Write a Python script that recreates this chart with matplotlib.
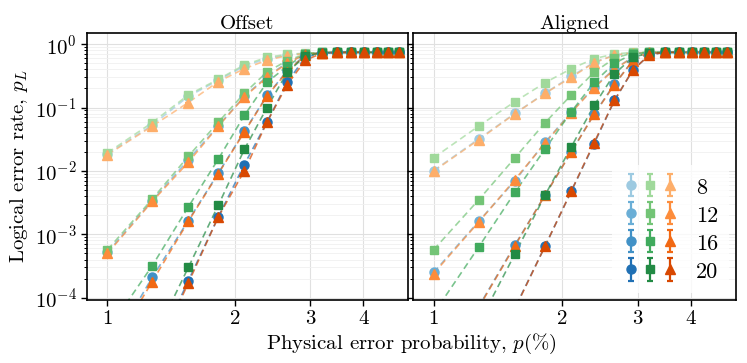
import numpy as np
import matplotlib
matplotlib.use('Agg')
import matplotlib.pyplot as plt
from matplotlib.legend_handler import HandlerTuple
from matplotlib.ticker import FixedLocator, NullLocator, FixedFormatter, LogLocator

plt.rcParams['font.family'] = 'serif'
plt.rcParams['font.serif'] = ['cmr10']
plt.rcParams['mathtext.fontset'] = 'cm'
plt.rcParams['axes.formatter.use_mathtext'] = True

# physical error probability (%)
p = [1.0, 1.275, 1.55, 1.825, 2.1, 2.375, 2.65, 2.925, 3.2, 3.475, 3.75, 4.025, 4.3, 4.575, 4.85]
distances = ['8', '12', '16', '20']
panels = ['Offset', 'Aligned']

# ---- Offset ----
off_blue = [
    [0.0185, 0.053, 0.15, 0.27, 0.45, 0.59, 0.67, 0.71, 0.73, 0.74, 0.745, 0.74, 0.745, 0.74, 0.745],
    [5.2e-4, 3.4e-3, 0.015, 0.052, 0.15, 0.31, 0.51, 0.69, 0.73, 0.74, 0.745, 0.74, 0.745, 0.74, 0.74],
    [1.3e-5, 2.1e-4, 1.65e-3, 9.3e-3, 0.042, 0.155, 0.38, 0.68, 0.73, 0.745, 0.74, 0.745, 0.74, 0.745, 0.74],
    [3e-7, 1.1e-5, 1.85e-4, 1.9e-3, 0.0126, 0.059, 0.25, 0.63, 0.72, 0.74, 0.745, 0.74, 0.745, 0.74, 0.745],
]
off_green = [
    [0.0193, 0.058, 0.158, 0.28, 0.47, 0.62, 0.69, 0.72, 0.74, 0.745, 0.74, 0.745, 0.74, 0.745, 0.74],
    [5.7e-4, 3.6e-3, 0.017, 0.059, 0.168, 0.365, 0.55, 0.70, 0.74, 0.74, 0.745, 0.74, 0.745, 0.74, 0.745],
    [3e-5, 3.2e-4, 2.7e-3, 0.0155, 0.075, 0.25, 0.45, 0.70, 0.74, 0.745, 0.74, 0.745, 0.74, 0.745, 0.74],
    [8e-7, 2e-5, 3.0e-4, 2.9e-3, 0.0218, 0.10, 0.36, 0.65, 0.73, 0.74, 0.745, 0.74, 0.745, 0.74, 0.745],
]
off_orange = [
    [0.018, 0.051, 0.12, 0.257, 0.41, 0.56, 0.66, 0.71, 0.73, 0.74, 0.74, 0.745, 0.74, 0.745, 0.74],
    [5.0e-4, 3.3e-3, 0.0137, 0.051, 0.147, 0.30, 0.50, 0.69, 0.73, 0.745, 0.74, 0.745, 0.74, 0.74, 0.745],
    [1.2e-5, 1.8e-4, 1.6e-3, 9.1e-3, 0.041, 0.152, 0.37, 0.67, 0.73, 0.74, 0.745, 0.74, 0.745, 0.74, 0.74],
    [3e-7, 1.0e-5, 1.7e-4, 1.9e-3, 0.010, 0.059, 0.23, 0.56, 0.72, 0.74, 0.74, 0.745, 0.74, 0.745, 0.74],
]

# ---- Aligned ----
ali_blue = [
    [0.0101, 0.032, 0.081, 0.17, 0.31, 0.52, 0.67, 0.73, 0.74, 0.745, 0.74, 0.745, 0.74, 0.745, 0.74],
    [2.5e-4, 1.6e-3, 7.0e-3, 0.0285, 0.085, 0.21, 0.41, 0.62, 0.73, 0.74, 0.745, 0.74, 0.745, 0.74, 0.745],
    [4.6e-6, 7.2e-5, 6.8e-4, 4.2e-3, 0.020, 0.079, 0.235, 0.55, 0.72, 0.745, 0.74, 0.745, 0.74, 0.745, 0.74],
    [1.5e-7, 4.5e-6, 6.9e-5, 6.6e-4, 4.8e-3, 0.027, 0.13, 0.39, 0.68, 0.74, 0.745, 0.74, 0.745, 0.74, 0.745],
]
ali_green = [
    [0.0161, 0.051, 0.124, 0.248, 0.41, 0.59, 0.70, 0.74, 0.745, 0.74, 0.745, 0.74, 0.745, 0.74, 0.745],
    [5.7e-4, 3.5e-3, 0.0161, 0.058, 0.158, 0.36, 0.60, 0.73, 0.74, 0.745, 0.74, 0.745, 0.74, 0.745, 0.74],
    [5.6e-5, 6.3e-4, 4.6e-3, 0.0224, 0.086, 0.25, 0.50, 0.70, 0.74, 0.74, 0.745, 0.74, 0.745, 0.74, 0.745],
    [1.6e-6, 3.9e-5, 4.9e-4, 4.2e-3, 0.024, 0.108, 0.34, 0.62, 0.73, 0.745, 0.74, 0.745, 0.74, 0.745, 0.74],
]
ali_orange = [
    [0.0099, 0.031, 0.080, 0.168, 0.30, 0.51, 0.67, 0.73, 0.74, 0.74, 0.745, 0.74, 0.745, 0.74, 0.745],
    [2.4e-4, 1.56e-3, 7.3e-3, 0.0278, 0.083, 0.206, 0.40, 0.62, 0.73, 0.745, 0.74, 0.745, 0.74, 0.745, 0.74],
    [4.4e-6, 7e-5, 6.6e-4, 4.2e-3, 0.0199, 0.078, 0.23, 0.55, 0.72, 0.74, 0.745, 0.74, 0.745, 0.74, 0.745],
    [1.4e-7, 4.3e-6, 6.7e-5, 6.6e-4, 4.8e-3, 0.028, 0.13, 0.39, 0.68, 0.745, 0.74, 0.745, 0.74, 0.745, 0.74],
]

data = {
    'Offset': (off_blue, off_green, off_orange),
    'Aligned': (ali_blue, ali_green, ali_orange),
}

shades = [0.375, 0.5, 0.625, 0.75]
cmaps = [plt.cm.Blues, plt.cm.Greens, plt.cm.Oranges]
markers = ['o', 's', '^']
msizes = [6.5, 6, 7]

fig = plt.figure(figsize=(7.47, 3.63), dpi=100)
ax1 = fig.add_axes([87/747, 63/363, 321/747, 267/363])
ax2 = fig.add_axes([413/747, 63/363, 323/747, 267/363], sharey=ax1)
axes = [ax1, ax2]

handles = []
for ax, name in zip(axes, panels):
    series = data[name]
    for i, d in enumerate(distances):
        row = []
        for k in range(3):
            col = cmaps[k](shades[i])
            y = np.array(series[k][i])
            ax.plot(p, y, linestyle=(0, (4, 2.5)), lw=1.2, color=col, alpha=0.7, zorder=2)
            eb = ax.errorbar(p, y, yerr=np.zeros_like(y), fmt=markers[k], ms=msizes[k],
                             color=col, ecolor=col, elinewidth=1.6, capsize=2.5, capthick=1.6,
                             zorder=3)
            row.append(eb)
        if ax is ax2:
            handles.append(tuple(row))

    ax.set_xscale('log')
    ax.set_yscale('log')
    ax.set_xlim(0.895, 5.1)
    ax.set_ylim(9.2e-5, 1.5)
    ax.xaxis.set_major_locator(FixedLocator([1, 2, 3, 4]))
    ax.xaxis.set_major_formatter(FixedFormatter(['1', '2', '3', '4']))
    ax.xaxis.set_minor_locator(NullLocator())
    ax.yaxis.set_major_locator(LogLocator(base=10, numticks=10))
    ax.yaxis.set_minor_locator(LogLocator(base=10, subs=np.arange(2, 10), numticks=20))
    ax.grid(which='major', color='0.88', lw=0.8, zorder=0)
    ax.grid(which='minor', axis='y', color='0.94', lw=0.6, zorder=0)
    ax.set_axisbelow(True)
    ax.tick_params(which='major', length=4, width=1, labelsize=15)
    ax.tick_params(which='minor', length=2, width=0.7)
    for s in ax.spines.values():
        s.set_linewidth(1.2)
    ax.set_title(name, fontsize=15, pad=3)

ax2.tick_params(labelleft=False)
ax1.set_ylabel('Logical error rate, $p_L$', fontsize=15, labelpad=3)
fig.text((87 + 736) / 2 / 747, 0.02, r'Physical error probability, $p(\%)$',
         ha='center', va='bottom', fontsize=15)

leg = ax2.legend(handles, distances, handler_map={tuple: HandlerTuple(ndivide=None, pad=0.1)},
                 loc='lower right', fontsize=16, handlelength=2.5, handleheight=1.0,
                 labelspacing=0.3, frameon=True, framealpha=0.8, edgecolor='none',
                 borderaxespad=0.3, handletextpad=0.8, borderpad=0.5)
leg.get_frame().set_facecolor('white')

fig.savefig('out.png', dpi=100)
